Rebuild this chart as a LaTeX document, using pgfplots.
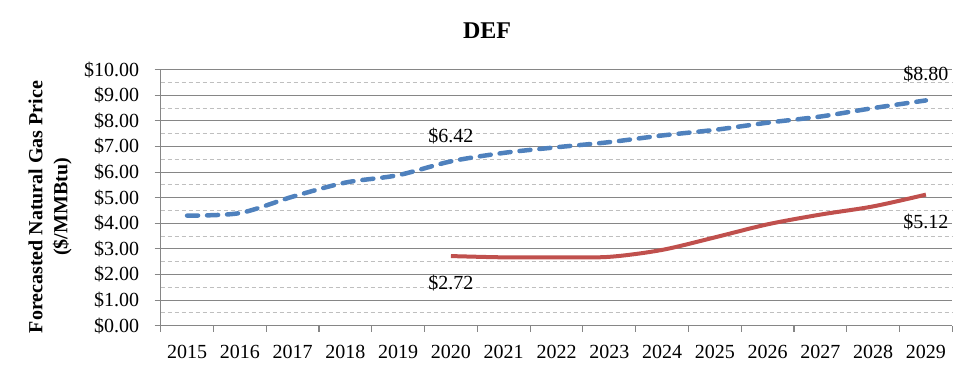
\documentclass[border=0pt]{standalone}
\usepackage{fontspec}
\setmainfont{Liberation Serif}
\usepackage{pgfplots}
\pgfplotsset{compat=1.18}
\definecolor{blueline}{HTML}{4F81BD}
\definecolor{redline}{HTML}{C0504D}
\definecolor{axisgray}{HTML}{868686}
\definecolor{gridgray}{HTML}{BFBFBF}
\begin{document}
\begin{tikzpicture}[x=1pt,y=1pt]
\path[use as bounding box] (0,0) rectangle (975,375);
\node[font=\fontsize{24}{28}\selectfont\bfseries] at (487,344) {DEF};
\node[font=\fontsize{20}{25}\selectfont\bfseries, rotate=90, align=center] at (50,168) {Forecasted Natural Gas Price\\(\$/MMBtu)};
\begin{axis}[
  at={(160.7pt,49.3pt)}, anchor=south west,
  scale only axis, width=791.6pt, height=256pt,
  xmin=-0.5, xmax=14.5, ymin=0, ymax=10,
  clip=false,
  axis x line*=bottom, axis y line*=left,
  axis line style={axisgray, line width=1.1pt, -},
  xtick={-0.5,0.5,...,14.5},
  x tick label as interval,
  xticklabels={2015,2016,2017,2018,2019,2020,2021,2022,2023,2024,2025,2026,2027,2028,2029},
  ytick={0,1,...,10},
  yticklabels={\$0.00,\$1.00,\$2.00,\$3.00,\$4.00,\$5.00,\$6.00,\$7.00,\$8.00,\$9.00,\$10.00},
  minor ytick={0.5,1.5,...,9.5},
  tick align=outside,
  major tick length=6pt, minor tick length=0pt,
  tick style={axisgray, line width=1.1pt},
  ymajorgrids, yminorgrids,
  major grid style={axisgray, line width=1pt},
  minor grid style={gridgray, line width=0.8pt, dash pattern=on 4pt off 3pt},
  tick label style={font=\fontsize{20}{24}\selectfont},
  xticklabel style={yshift=-10pt},
  yticklabel style={xshift=-12pt},
]
\addplot[blueline, line width=4.5pt, line cap=round, dash pattern=on 11pt off 9pt, smooth, tension=0.5] coordinates {
 (0,4.30) (1,4.40) (2,5.04) (3,5.59) (4,5.88) (5,6.42) (6,6.75) (7,6.97) (8,7.17) (9,7.43) (10,7.65) (11,7.93) (12,8.17) (13,8.50) (14,8.80)};
\addplot[redline, line width=4pt, smooth, tension=0.5] coordinates {
 (5,2.72) (6,2.67) (7,2.67) (8,2.69) (9,2.96) (10,3.45) (11,3.96) (12,4.34) (13,4.66) (14,5.12)};
\node[font=\fontsize{20}{24}\selectfont] at (axis cs:5,6.42) [yshift=25.5pt] {\$6.42};
\node[font=\fontsize{20}{24}\selectfont] at (axis cs:14,8.80) [yshift=26pt] {\$8.80};
\node[font=\fontsize{20}{24}\selectfont] at (axis cs:5,2.72) [yshift=-27pt] {\$2.72};
\node[font=\fontsize{20}{24}\selectfont] at (axis cs:14,5.12) [yshift=-27pt] {\$5.12};
\end{axis}
\end{tikzpicture}
\end{document}
